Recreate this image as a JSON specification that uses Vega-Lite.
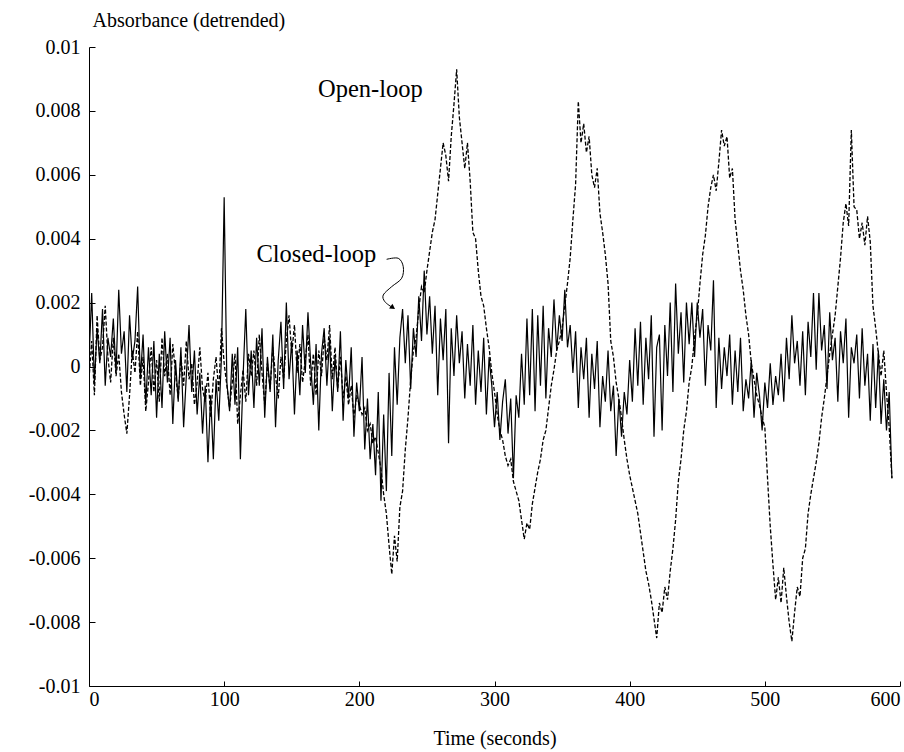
{
"$schema":"https://vega.github.io/schema/vega-lite/v6.json",
"width":811,"height":639,
"autosize":{"type":"none"},
"padding":{"left":89,"top":47,"right":4,"bottom":66},
"background":"white",
"config":{"view":{"stroke":null},"font":"Liberation Serif","text":{"font":"Liberation Serif"}},
"datasets":{
"series":[
{"t":0,"open":-0.0004,"closed":0.0002},{"t":2,"open":0.0008,"closed":0.0023},{"t":4,"open":-0.0009,"closed":-0.0005},{"t":6,"open":0.0016,"closed":0.0012},{"t":8,"open":0.0002,"closed":0.0001},{"t":10,"open":0.0006,"closed":0.0018},{"t":12,"open":0.0019,"closed":-0.0006},{"t":14,"open":0.0003,"closed":0.0009},{"t":16,"open":-0.0005,"closed":0.0003},{"t":18,"open":0.0009,"closed":0.0015},
{"t":20,"open":-0.0003,"closed":-0.0002},{"t":22,"open":0.0004,"closed":0.0024},{"t":24,"open":-0.0008,"closed":0.0004},{"t":26,"open":-0.0015,"closed":0.0011},{"t":28,"open":-0.0021,"closed":-0.0008},{"t":30,"open":-0.0009,"closed":0.0016},{"t":32,"open":0.0005,"closed":0.0002},{"t":34,"open":-0.0002,"closed":0.0008},{"t":36,"open":0.0011,"closed":0.0025},{"t":38,"open":-0.0006,"closed":-0.0004},
{"t":40,"open":0.0003,"closed":0.0010},{"t":42,"open":-0.0014,"closed":-0.0012},{"t":44,"open":-0.0005,"closed":0.0006},{"t":46,"open":0.0006,"closed":-0.0009},{"t":48,"open":-0.0008,"closed":0.0008},{"t":50,"open":0.0002,"closed":-0.0016},{"t":52,"open":-0.0011,"closed":0.0004},{"t":54,"open":0.0009,"closed":-0.0013},{"t":56,"open":-0.0003,"closed":0.0011},{"t":58,"open":0.0004,"closed":-0.0005},
{"t":60,"open":-0.0009,"closed":0.0009},{"t":62,"open":0.0007,"closed":-0.0018},{"t":64,"open":-0.0002,"closed":0.0002},{"t":66,"open":-0.0010,"closed":-0.0011},{"t":68,"open":0.0003,"closed":0.0006},{"t":70,"open":-0.0006,"closed":-0.0019},{"t":72,"open":0.0008,"closed":-0.0003},{"t":74,"open":-0.0004,"closed":0.0013},{"t":76,"open":0.0001,"closed":-0.0008},{"t":78,"open":-0.0012,"closed":0.0005},
{"t":80,"open":-0.0005,"closed":-0.0015},{"t":82,"open":0.0006,"closed":-0.0002},{"t":84,"open":-0.0007,"closed":-0.0021},{"t":86,"open":-0.0011,"closed":-0.0006},{"t":88,"open":-0.0002,"closed":-0.0030},{"t":90,"open":-0.0016,"closed":-0.0009},{"t":92,"open":-0.0004,"closed":-0.0029},{"t":94,"open":0.0003,"closed":-0.0004},{"t":96,"open":-0.0008,"closed":-0.0017},{"t":98,"open":0.0012,"closed":0.0003},
{"t":100,"open":0.0001,"closed":0.0053},{"t":102,"open":-0.0006,"closed":-0.0005},{"t":104,"open":-0.0013,"closed":-0.0014},{"t":106,"open":-0.0005,"closed":0.0004},{"t":108,"open":0.0004,"closed":-0.0012},{"t":110,"open":-0.0018,"closed":0.0006},{"t":112,"open":-0.0009,"closed":-0.0029},{"t":114,"open":-0.0001,"closed":-0.0003},{"t":116,"open":-0.0011,"closed":0.0018},{"t":118,"open":0.0004,"closed":-0.0009},
{"t":120,"open":-0.0003,"closed":0.0005},{"t":122,"open":0.0005,"closed":-0.0013},{"t":124,"open":-0.0006,"closed":0.0009},{"t":126,"open":0.0010,"closed":-0.0006},{"t":128,"open":-0.0002,"closed":0.0012},{"t":130,"open":-0.0012,"closed":-0.0016},{"t":132,"open":0.0001,"closed":0.0003},{"t":134,"open":-0.0007,"closed":-0.0008},{"t":136,"open":0.0006,"closed":0.0010},{"t":138,"open":-0.0003,"closed":-0.0019},
{"t":140,"open":-0.0010,"closed":0.0002},{"t":142,"open":0.0003,"closed":0.0014},{"t":144,"open":-0.0004,"closed":-0.0007},{"t":146,"open":0.0008,"closed":0.0020},{"t":148,"open":0.0016,"closed":-0.0004},{"t":150,"open":0.0004,"closed":0.0008},{"t":152,"open":0.0013,"closed":-0.0015},{"t":154,"open":-0.0002,"closed":0.0005},{"t":156,"open":0.0007,"closed":-0.0009},{"t":158,"open":-0.0005,"closed":0.0013},
{"t":160,"open":0.0002,"closed":-0.0002},{"t":162,"open":0.0010,"closed":0.0017},{"t":164,"open":-0.0006,"closed":0.0001},{"t":166,"open":0.0004,"closed":-0.0012},{"t":168,"open":-0.0009,"closed":0.0007},{"t":170,"open":0.0005,"closed":-0.0020},{"t":172,"open":-0.0003,"closed":0.0004},{"t":174,"open":0.0009,"closed":0.0012},{"t":176,"open":0.0002,"closed":-0.0006},{"t":178,"open":0.0013,"closed":0.0009},
{"t":180,"open":-0.0004,"closed":-0.0014},{"t":182,"open":0.0006,"closed":0.0003},{"t":184,"open":-0.0007,"closed":-0.0008},{"t":186,"open":0.0003,"closed":0.0011},{"t":188,"open":-0.0010,"closed":-0.0017},{"t":190,"open":-0.0003,"closed":0.0002},{"t":192,"open":-0.0012,"closed":-0.0010},{"t":194,"open":-0.0006,"closed":0.0006},{"t":196,"open":-0.0016,"closed":-0.0022},{"t":198,"open":-0.0009,"closed":-0.0005},
{"t":200,"open":-0.0012,"closed":-0.0014},{"t":202,"open":-0.0015,"closed":0.0003},{"t":204,"open":-0.0013,"closed":-0.0026},{"t":206,"open":-0.0020,"closed":-0.0010},{"t":208,"open":-0.0018,"closed":-0.0029},{"t":210,"open":-0.0024,"closed":-0.0018},{"t":212,"open":-0.0022,"closed":-0.0034},{"t":214,"open":-0.0027,"closed":-0.0008},{"t":216,"open":-0.0032,"closed":-0.0042},{"t":218,"open":-0.0040,"closed":-0.0015},
{"t":220,"open":-0.0046,"closed":-0.0039},{"t":222,"open":-0.0056,"closed":-0.0002},{"t":224,"open":-0.0065,"closed":-0.0028},{"t":226,"open":-0.0053,"closed":0.0006},{"t":228,"open":-0.0061,"closed":-0.0012},{"t":230,"open":-0.0044,"closed":0.0009},{"t":232,"open":-0.0039,"closed":0.0018},{"t":234,"open":-0.0026,"closed":0.0001},{"t":236,"open":-0.0016,"closed":0.0016},{"t":238,"open":-0.0004,"closed":-0.0007},
{"t":240,"open":0.0005,"closed":0.0012},{"t":242,"open":0.0009,"closed":0.0003},{"t":244,"open":0.0018,"closed":0.0022},{"t":246,"open":0.0025,"closed":0.0008},{"t":248,"open":0.0023,"closed":0.0030},{"t":250,"open":0.0030,"closed":0.0010},{"t":252,"open":0.0036,"closed":0.0022},{"t":254,"open":0.0042,"closed":0.0004},{"t":256,"open":0.0046,"closed":0.0019},{"t":258,"open":0.0054,"closed":-0.0009},
{"t":260,"open":0.0062,"closed":0.0015},{"t":262,"open":0.0070,"closed":0.0002},{"t":264,"open":0.0066,"closed":0.0018},{"t":266,"open":0.0058,"closed":-0.0024},{"t":268,"open":0.0072,"closed":0.0012},{"t":270,"open":0.0082,"closed":-0.0003},{"t":272,"open":0.0093,"closed":0.0016},{"t":274,"open":0.0078,"closed":0.0001},{"t":276,"open":0.0070,"closed":0.0011},{"t":278,"open":0.0062,"closed":-0.0010},
{"t":280,"open":0.0070,"closed":0.0007},{"t":282,"open":0.0058,"closed":-0.0006},{"t":284,"open":0.0042,"closed":0.0013},{"t":286,"open":0.0040,"closed":-0.0012},{"t":288,"open":0.0030,"closed":0.0005},{"t":290,"open":0.0022,"closed":-0.0008},{"t":292,"open":0.0019,"closed":0.0009},{"t":294,"open":0.0012,"closed":-0.0015},{"t":296,"open":0.0006,"closed":0.0003},{"t":298,"open":-0.0002,"closed":-0.0006},
{"t":300,"open":-0.0008,"closed":-0.0019},{"t":302,"open":-0.0015,"closed":-0.0008},{"t":304,"open":-0.0020,"closed":-0.0023},{"t":306,"open":-0.0023,"closed":-0.0011},{"t":308,"open":-0.0028,"closed":-0.0004},{"t":310,"open":-0.0031,"closed":-0.0021},{"t":312,"open":-0.0029,"closed":-0.0010},{"t":314,"open":-0.0036,"closed":-0.0035},{"t":316,"open":-0.0039,"closed":-0.0009},{"t":318,"open":-0.0042,"closed":-0.0016},
{"t":320,"open":-0.0048,"closed":0.0004},{"t":322,"open":-0.0054,"closed":-0.0012},{"t":324,"open":-0.0049,"closed":0.0015},{"t":326,"open":-0.0051,"closed":-0.0009},{"t":328,"open":-0.0043,"closed":0.0018},{"t":330,"open":-0.0038,"closed":-0.0014},{"t":332,"open":-0.0033,"closed":0.0016},{"t":334,"open":-0.0029,"closed":-0.0006},{"t":336,"open":-0.0023,"closed":0.0019},{"t":338,"open":-0.0020,"closed":-0.0010},
{"t":340,"open":-0.0013,"closed":0.0012},{"t":342,"open":-0.0006,"closed":0.0003},{"t":344,"open":-0.0001,"closed":0.0021},{"t":346,"open":0.0005,"closed":0.0005},{"t":348,"open":0.0008,"closed":0.0016},{"t":350,"open":0.0012,"closed":0.0008},{"t":352,"open":0.0019,"closed":0.0024},{"t":354,"open":0.0026,"closed":0.0006},{"t":356,"open":0.0034,"closed":0.0013},{"t":358,"open":0.0046,"closed":-0.0002},
{"t":360,"open":0.0057,"closed":0.0011},{"t":362,"open":0.0083,"closed":-0.0013},{"t":364,"open":0.0070,"closed":0.0006},{"t":366,"open":0.0076,"closed":-0.0004},{"t":368,"open":0.0067,"closed":0.0009},{"t":370,"open":0.0072,"closed":-0.0016},{"t":372,"open":0.0060,"closed":0.0004},{"t":374,"open":0.0056,"closed":-0.0007},{"t":376,"open":0.0062,"closed":0.0008},{"t":378,"open":0.0048,"closed":-0.0019},
{"t":380,"open":0.0042,"closed":-0.0003},{"t":382,"open":0.0035,"closed":-0.0011},{"t":384,"open":0.0026,"closed":0.0005},{"t":386,"open":0.0008,"closed":-0.0014},{"t":388,"open":0.0003,"closed":-0.0006},{"t":390,"open":-0.0005,"closed":-0.0028},{"t":392,"open":-0.0010,"closed":-0.0010},{"t":394,"open":-0.0016,"closed":-0.0022},{"t":396,"open":-0.0023,"closed":-0.0008},{"t":398,"open":-0.0029,"closed":-0.0015},
{"t":400,"open":-0.0034,"closed":0.0002},{"t":402,"open":-0.0038,"closed":-0.0011},{"t":404,"open":-0.0042,"closed":0.0012},{"t":406,"open":-0.0046,"closed":-0.0006},{"t":408,"open":-0.0052,"closed":0.0014},{"t":410,"open":-0.0058,"closed":-0.0012},{"t":412,"open":-0.0064,"closed":0.0009},{"t":414,"open":-0.0068,"closed":-0.0004},{"t":416,"open":-0.0073,"closed":0.0016},{"t":418,"open":-0.0079,"closed":-0.0022},
{"t":420,"open":-0.0085,"closed":0.0006},{"t":422,"open":-0.0074,"closed":0.0010},{"t":424,"open":-0.0077,"closed":-0.0020},{"t":426,"open":-0.0069,"closed":0.0013},{"t":428,"open":-0.0073,"closed":-0.0003},{"t":430,"open":-0.0064,"closed":0.0020},{"t":432,"open":-0.0057,"closed":-0.0008},{"t":434,"open":-0.0048,"closed":0.0026},{"t":436,"open":-0.0036,"closed":0.0004},{"t":438,"open":-0.0029,"closed":0.0017},
{"t":440,"open":-0.0020,"closed":-0.0005},{"t":442,"open":-0.0014,"closed":0.0020},{"t":444,"open":-0.0005,"closed":0.0007},{"t":446,"open":0,"closed":0.0020},{"t":448,"open":0.0009,"closed":0.0003},{"t":450,"open":0.0016,"closed":0.0020},{"t":452,"open":0.0026,"closed":0.0009},{"t":454,"open":0.0035,"closed":0.0018},{"t":456,"open":0.0041,"closed":-0.0006},{"t":458,"open":0.0050,"closed":0.0013},
{"t":460,"open":0.0056,"closed":0.0005},{"t":462,"open":0.0060,"closed":0.0027},{"t":464,"open":0.0055,"closed":-0.0013},{"t":466,"open":0.0064,"closed":0.0009},{"t":468,"open":0.0074,"closed":-0.0007},{"t":470,"open":0.0069,"closed":0.0006},{"t":472,"open":0.0072,"closed":-0.0003},{"t":474,"open":0.0059,"closed":0.0010},{"t":476,"open":0.0062,"closed":-0.0012},{"t":478,"open":0.0046,"closed":0.0005},
{"t":480,"open":0.0038,"closed":-0.0008},{"t":482,"open":0.0030,"closed":0.0009},{"t":484,"open":0.0024,"closed":-0.0014},{"t":486,"open":0.0016,"closed":-0.0004},{"t":488,"open":0.0010,"closed":-0.0010},{"t":490,"open":0.0001,"closed":0.0002},{"t":492,"open":-0.0004,"closed":-0.0016},{"t":494,"open":-0.0009,"closed":-0.0002},{"t":496,"open":-0.0012,"closed":-0.0009},{"t":498,"open":-0.0016,"closed":-0.0020},
{"t":500,"open":-0.0019,"closed":-0.0005},{"t":502,"open":-0.0035,"closed":-0.0013},{"t":504,"open":-0.0050,"closed":0.0001},{"t":506,"open":-0.0062,"closed":-0.0012},{"t":508,"open":-0.0073,"closed":-0.0003},{"t":510,"open":-0.0066,"closed":-0.0009},{"t":512,"open":-0.0074,"closed":0.0004},{"t":514,"open":-0.0063,"closed":-0.0011},{"t":516,"open":-0.0072,"closed":0.0009},{"t":518,"open":-0.0080,"closed":-0.0004},
{"t":520,"open":-0.0086,"closed":0.0016},{"t":522,"open":-0.0077,"closed":0.0001},{"t":524,"open":-0.0069,"closed":0.0008},{"t":526,"open":-0.0072,"closed":-0.0006},{"t":528,"open":-0.0060,"closed":0.0011},{"t":530,"open":-0.0057,"closed":-0.0009},{"t":532,"open":-0.0046,"closed":0.0014},{"t":534,"open":-0.0040,"closed":0.0003},{"t":536,"open":-0.0035,"closed":0.0023},{"t":538,"open":-0.0030,"closed":-0.0001},
{"t":540,"open":-0.0024,"closed":0.0023},{"t":542,"open":-0.0016,"closed":0.0005},{"t":544,"open":-0.0010,"closed":0.0013},{"t":546,"open":-0.0003,"closed":-0.0007},{"t":548,"open":0.0004,"closed":0.0017},{"t":550,"open":0.0010,"closed":0.0002},{"t":552,"open":0.0016,"closed":0.0009},{"t":554,"open":0.0025,"closed":-0.0011},{"t":556,"open":0.0034,"closed":0.0011},{"t":558,"open":0.0045,"closed":0.0001},
{"t":560,"open":0.0051,"closed":0.0015},{"t":562,"open":0.0044,"closed":-0.0016},{"t":564,"open":0.0074,"closed":0.0006},{"t":566,"open":0.0050,"closed":0.0001},{"t":568,"open":0.0049,"closed":0.0010},{"t":570,"open":0.0040,"closed":-0.0010},{"t":572,"open":0.0045,"closed":0.0012},{"t":574,"open":0.0038,"closed":-0.0006},{"t":576,"open":0.0047,"closed":0.0004},{"t":578,"open":0.0039,"closed":-0.0017},
{"t":580,"open":0.0019,"closed":0.0007},{"t":582,"open":0.0012,"closed":-0.0013},{"t":584,"open":0.0004,"closed":0.0005},{"t":586,"open":-0.0003,"closed":-0.0018},{"t":588,"open":0.0005,"closed":-0.0004},{"t":590,"open":-0.0008,"closed":-0.0020},{"t":592,"open":-0.0019,"closed":-0.0008},{"t":594,"open":-0.0035,"closed":-0.0035}
],
"labels":[
{"t":169.4,"v":0.00843,"label":"Open-loop"},
{"t":123.9,"v":0.00327,"label":"Closed-loop"}
],
"arrow":[
{"i":0,"t":220.2,"v":0.003355},{"i":1,"t":228.8,"v":0.003387},{"i":2,"t":232.5,"v":0.003124},{"i":3,"t":231.3,"v":0.002761},{"i":4,"t":223.9,"v":0.002498},{"i":5,"t":217.7,"v":0.002238},{"i":6,"t":218.9,"v":0.002028},{"i":7,"t":224.0,"v":0.001860}
],
"head":[{"t":224.3,"v":0.00186}]
},
"layer":[
{"data":{"name":"series"},
"mark":{"type":"line","color":"black","strokeWidth":1.3,"strokeDash":[4,2],"clip":true},
"encoding":{
"x":{"field":"t","type":"quantitative","scale":{"domain":[0,600],"nice":false,"zero":false},
"axis":{"values":[0,100,200,300,400,500,600],"grid":false,"domainColor":"black","domainWidth":1,"tickColor":"black","tickSize":-5,"labelPadding":8,"labelFontSize":20,"labelColor":"black","labelFont":"Liberation Serif","title":"Time (seconds)","titleFont":"Liberation Serif","titleFontSize":20,"titleFontWeight":"normal","titleColor":"black","titlePadding":19}},
"y":{"field":"open","type":"quantitative","scale":{"domain":[-0.01,0.01],"nice":false,"zero":false},
"axis":{"values":[-0.01,-0.008,-0.006,-0.004,-0.002,0,0.002,0.004,0.006,0.008,0.01],"labelExpr":"toString(datum.value)","grid":false,"domainColor":"black","domainWidth":1,"tickColor":"black","tickSize":-6,"labelPadding":15,"labelFontSize":20,"labelColor":"black","labelFont":"Liberation Serif","title":"Absorbance (detrended)","titleFont":"Liberation Serif","titleFontSize":20,"titleFontWeight":"normal","titleColor":"black","titleAngle":0,"titleAlign":"left","titleBaseline":"alphabetic","titleX":3,"titleY":-21}}
}},
{"data":{"name":"series"},
"mark":{"type":"line","color":"black","strokeWidth":1.2,"clip":true},
"encoding":{"x":{"field":"t","type":"quantitative"},"y":{"field":"closed","type":"quantitative"}}},
{"data":{"name":"labels"},
"mark":{"type":"text","align":"left","baseline":"alphabetic","fontSize":24.5,"font":"Liberation Serif","color":"black"},
"encoding":{"x":{"field":"t","type":"quantitative"},"y":{"field":"v","type":"quantitative"},"text":{"field":"label"}}},
{"data":{"name":"arrow"},
"mark":{"type":"line","color":"black","strokeWidth":1,"interpolate":"cardinal"},
"encoding":{"x":{"field":"t","type":"quantitative"},"y":{"field":"v","type":"quantitative"},"order":{"field":"i"}}},
{"data":{"name":"head"},
"mark":{"type":"point","shape":"triangle","filled":true,"color":"black","size":35,"angle":125,"opacity":1},
"encoding":{"x":{"field":"t","type":"quantitative"},"y":{"field":"v","type":"quantitative"}}}
]
}
